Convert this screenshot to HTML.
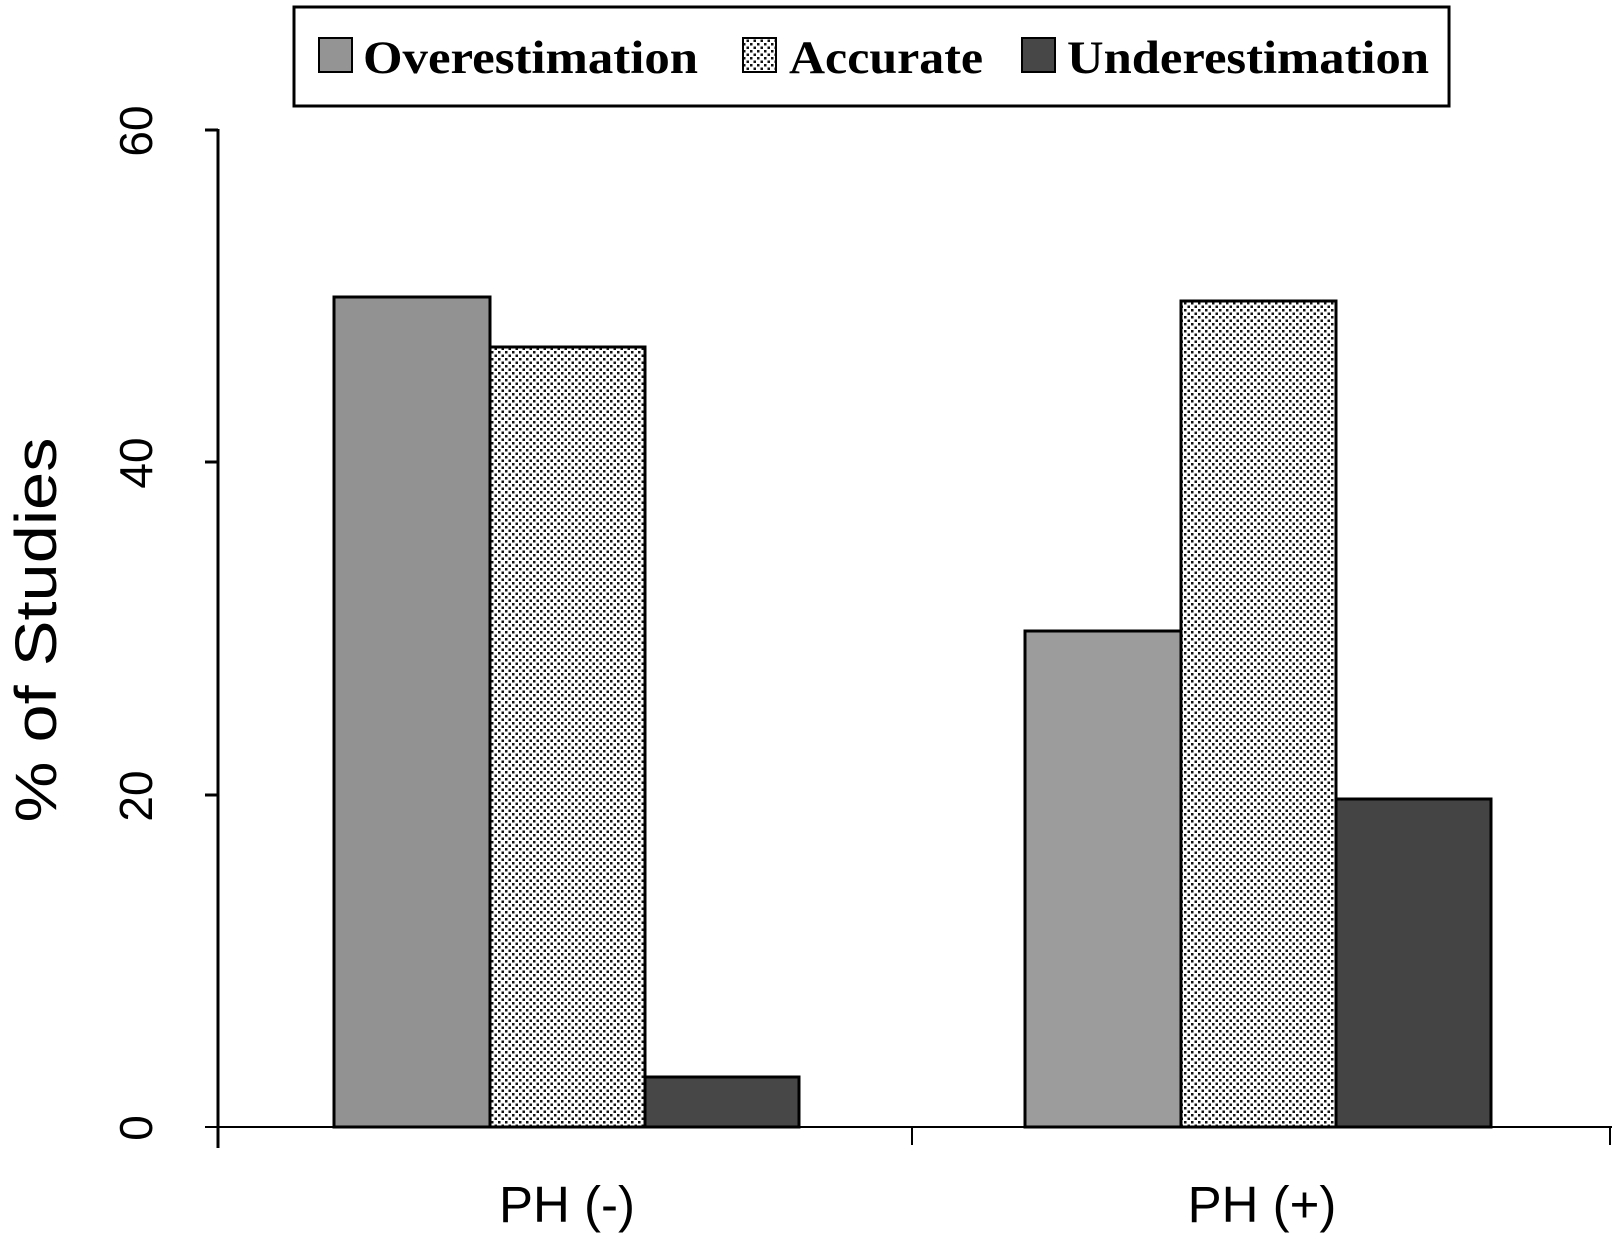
<!DOCTYPE html>
<html><head><meta charset="utf-8"><style>
html,body{margin:0;padding:0;background:#fff;}
svg{display:block;}
</style></head><body>
<svg width="1620" height="1242" viewBox="0 0 1620 1242" xmlns="http://www.w3.org/2000/svg">
<defs>
<pattern id="dots" width="7" height="7" patternUnits="userSpaceOnUse">
<rect width="7" height="7" fill="#fff"/>
<rect x="1" y="1" width="2.5" height="2.5" fill="#111"/>
<rect x="4.5" y="4.5" width="2.5" height="2.5" fill="#111"/>
</pattern>
</defs>
<rect x="294" y="7" width="1162" height="99" fill="#fff" stroke="#000" stroke-width="3" transform="translate(294,0) scale(0.994,1) translate(-294,0)"/>
<rect x="319" y="38" width="33" height="34" fill="#949494" stroke="#000" stroke-width="2"/>
<text x="363" y="73" font-family="Liberation Serif, serif" font-weight="bold" font-size="47" textLength="335" lengthAdjust="spacingAndGlyphs">Overestimation</text>
<rect x="743" y="38" width="33" height="34" fill="url(#dots)" stroke="#000" stroke-width="2"/>
<text x="789" y="73" font-family="Liberation Serif, serif" font-weight="bold" font-size="47" textLength="194" lengthAdjust="spacingAndGlyphs">Accurate</text>
<rect x="1022" y="38" width="33" height="34" fill="#474747" stroke="#000" stroke-width="2"/>
<text x="1067" y="73" font-family="Liberation Serif, serif" font-weight="bold" font-size="47" textLength="362" lengthAdjust="spacingAndGlyphs">Underestimation</text>
<line x1="218" y1="129" x2="218" y2="1148" stroke="#000" stroke-width="3"/>
<line x1="205" y1="1127" x2="1612" y2="1127" stroke="#000" stroke-width="2"/>
<line x1="205" y1="130" x2="218" y2="130" stroke="#000" stroke-width="3"/>
<line x1="205" y1="462" x2="218" y2="462" stroke="#000" stroke-width="3"/>
<line x1="205" y1="795" x2="218" y2="795" stroke="#000" stroke-width="3"/>
<line x1="912" y1="1127" x2="912" y2="1145" stroke="#000" stroke-width="2"/>
<line x1="1610" y1="1127" x2="1610" y2="1145" stroke="#000" stroke-width="2"/>
<g font-family="Liberation Sans, sans-serif" font-size="46" text-anchor="middle">
<text transform="translate(152,131) rotate(-90)">60</text>
<text transform="translate(152,463) rotate(-90)">40</text>
<text transform="translate(152,796) rotate(-90)">20</text>
<text transform="translate(152,1128) rotate(-90)">0</text>
</g>
<text transform="translate(56,630) rotate(-90)" font-family="Liberation Sans, sans-serif" font-size="58" text-anchor="middle" textLength="385" lengthAdjust="spacingAndGlyphs">% of Studies</text>
<g stroke="#000" stroke-width="3">
<rect x="334" y="297" width="156" height="830" fill="#929292"/>
<rect x="490" y="347" width="155" height="780" fill="url(#dots)"/>
<rect x="645" y="1077" width="154" height="50" fill="#474747"/>
<rect x="1025" y="631" width="156" height="496" fill="#9c9c9c"/>
<rect x="1181" y="301" width="155" height="826" fill="url(#dots)"/>
<rect x="1336" y="799" width="155" height="328" fill="#444"/>
</g>
<g font-family="Liberation Sans, sans-serif" font-size="51" text-anchor="middle">
<text x="567" y="1222">PH (-)</text>
<text x="1262" y="1222">PH (+)</text>
</g>
</svg>
</body></html>
